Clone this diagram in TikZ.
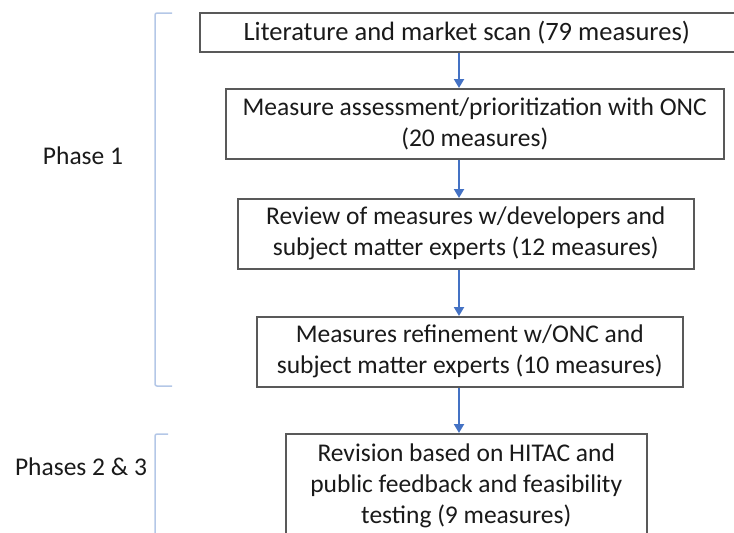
\documentclass[tikz,border=0pt]{standalone}
\usepackage{fontspec}
\setmainfont{Carlito}
\usetikzlibrary{arrows.meta}
\definecolor{boxgray}{HTML}{595959}
\definecolor{arrblue}{HTML}{4472C4}
\definecolor{brblue}{HTML}{B4C7E7}
\definecolor{txt}{HTML}{1A1A1A}
\tikzset{
  box/.style={draw=boxgray, line width=1.5pt, fill=white, text=txt, align=center,
    inner sep=0pt, font=\fontsize{25.5}{31}\selectfont, anchor=north west},
  arr/.style={draw=arrblue, line width=2pt, -{Triangle[width=10pt,length=9pt]}},
  brk/.style={draw=brblue, line width=1.5pt, rounded corners=2pt},
  lbl/.style={text=txt, font=\fontsize{25.5}{31}\selectfont, inner sep=0pt}
}
\begin{document}
\begin{tikzpicture}[x=1pt,y=-1pt]
\useasboundingbox (0,0) rectangle (734,533);
\clip (0,0) rectangle (734,533);
\node[box, minimum width=541, minimum height=39] (b1) at (199,12) {\hspace*{-7pt}{\fontsize{26.5}{31}\selectfont Literature and market scan (79 measures)}};
\node[box, minimum width=498, minimum height=70] (b2) at (225,88) {Measure assessment/prioritization with ONC\\(20 measures)};
\node[box, minimum width=456, minimum height=70] (b3) at (237,198) {Review of measures w/developers and\\subject matter experts (12 measures)};
\node[box, minimum width=426, minimum height=70] (b4) at (256,316) {Measures refinement w/ONC and\\subject matter experts (10 measures)};
\node[box, minimum width=361, minimum height=104] (b5) at (285,433) {Revision based on HITAC and\\public feedback and feasibility\\testing (9 measures)};
\coordinate (ax) at (459,0);
\draw[arr] (b1.south -| ax) -- (b2.north -| ax);
\draw[arr] (b2.south -| ax) -- (b3.north -| ax);
\draw[arr] (b3.south -| ax) -- (b4.north -| ax);
\draw[arr] (b4.south -| ax) -- (b5.north -| ax);
\node[lbl] (p1) at (83,156) {Phase 1};
\node[lbl] (p2) at (81,467) {Phases 2 \& 3};
\draw[brk] (172,13) -- (155,13) -- (155,386) -- (172,386);
\draw[brk] (168,434) -- (155,434) -- (155,545);
\end{tikzpicture}
\end{document}
